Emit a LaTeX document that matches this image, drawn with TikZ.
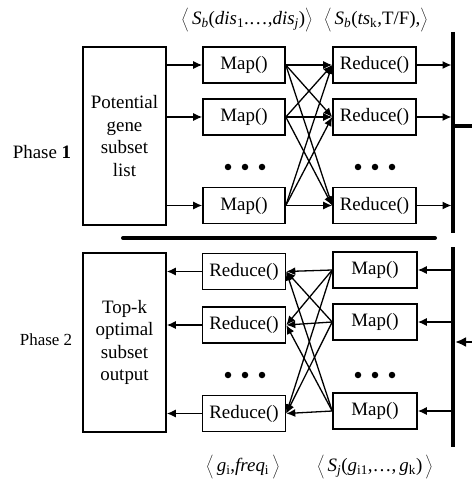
\documentclass[tikz,border=0pt]{standalone}
\usepackage{fontspec}
\setmainfont{Liberation Serif}
\usetikzlibrary{arrows.meta}
\begin{document}
\begin{tikzpicture}[x=1bp,y=-1bp,
  box/.style={draw,line width=1.6bp,minimum width=82bp,minimum height=36bp,inner sep=0pt,font=\fontsize{19}{22}\selectfont},
  bigbox/.style={draw,line width=1.6bp,minimum width=83bp,minimum height=178bp,inner sep=0pt,align=center,font=\fontsize{19}{22.5}\selectfont},
  arr/.style={line width=1.3bp,-{Latex[length=9bp,width=8bp]}},
  bar/.style={line width=4bp},
  dot/.style={circle,fill,inner sep=0pt,minimum size=6.5bp},
  lbl/.style={font=\fontsize{19}{21}\selectfont,inner sep=0pt}]
\useasboundingbox (0,0) rectangle (472,481);
% ---------- Phase 1 ----------
\node[bigbox] (L1) at (124.5,136) {Potential\\gene\\subset\\list};
\node[font=\fontsize{19}{22}\selectfont] (P1) at (42,152) {Phase \textbf{1}};
\foreach \n/\y in {1/65,2/117,3/205.5}{
  \node[box] (m\n) at (244,\y) {Map()};
  \node[box,minimum width=83bp] (r\n) at (374.5,\y) {Reduce()};
  \coordinate (b\n) at (451.5,\y);
}
\foreach \n in {1,2,3}{
  \draw[arr] (L1.east |- m\n) -- (m\n);
  \draw[arr] (r\n) -- (b\n);
  \foreach \k in {1,2,3}{ \draw[arr] (m\n.east) -- (r\k.west); }
}
\foreach \x in {228,245,262,358,375,392}{ \node[dot] at (\x,167) {}; }
\coordinate (t1) at (453,32);
\coordinate (t2) at (453,233);
\draw[bar] (t1) -- (t2);
\coordinate (o1) at (453,126);
\coordinate (o2) at (472,126);
\draw[bar] (o1) -- (o2);
% divider
\coordinate (d1) at (123,238);
\coordinate (d2) at (435,238);
\draw[bar,line cap=round] (d1) -- (d2);
% ---------- Phase 2 ----------
\node[bigbox,minimum height=179bp] (L2) at (124.5,342.5) {Top-k\\optimal\\subset\\output};
\node[font=\fontsize{17}{20}\selectfont] (P2) at (46,340) {Phase 2};
\foreach \n/\yr/\ym in {1/271.5/270,2/325/322,3/413.5/411}{
  \node[box,minimum width=83bp] (rr\n) at (244,\yr) {Reduce()};
  \node[box,minimum width=84bp] (mm\n) at (375,\ym) {Map()};
  \coordinate (c\n) at (451.5,\ym);
}
\foreach \n in {1,2,3}{
  \draw[arr] (rr\n) -- (L2.east |- rr\n);
  \draw[arr] (c\n) -- (mm\n);
  \foreach \k in {1,2,3}{ \draw[arr] (mm\n.west) -- (rr\k.east); }
}
\foreach \x in {228,245,262,358,375,392}{ \node[dot] at (\x,375) {}; }
\coordinate (u1) at (453,247);
\coordinate (u2) at (453,447);
\draw[bar] (u1) -- (u2);
\coordinate (i1) at (472,342);
\coordinate (i2) at (455,342);
\draw[line width=2.5bp,-{Latex[length=11bp,width=10bp]}] (i1) -- (i2);
% ---------- labels ----------
\node[lbl] (T1) at (247,20) {$\bigg\langle$\,\textit{S}\textsubscript{\textit{b}}(\textit{dis}\textsubscript{1}.…,\textit{dis}\textsubscript{\textit{j}})$\bigg\rangle$};
\node[lbl] (T2) at (376,20) {$\bigg\langle$\,\textit{S}\textsubscript{\textit{b}}(\textit{ts}\textsubscript{k},T/F),$\bigg\rangle$};
\node[lbl] (B1) at (243,467) {$\bigg\langle$\,\textit{g}\textsubscript{i},\textit{freq}\textsubscript{i}\,$\bigg\rangle$};
\node[lbl] (B2) at (375,467) {$\bigg\langle$\,\textit{S}\textsubscript{\textit{j}}(\textit{g}\textsubscript{i1},…,\,\textit{g}\textsubscript{k})\,$\bigg\rangle$};
\end{tikzpicture}
\end{document}
